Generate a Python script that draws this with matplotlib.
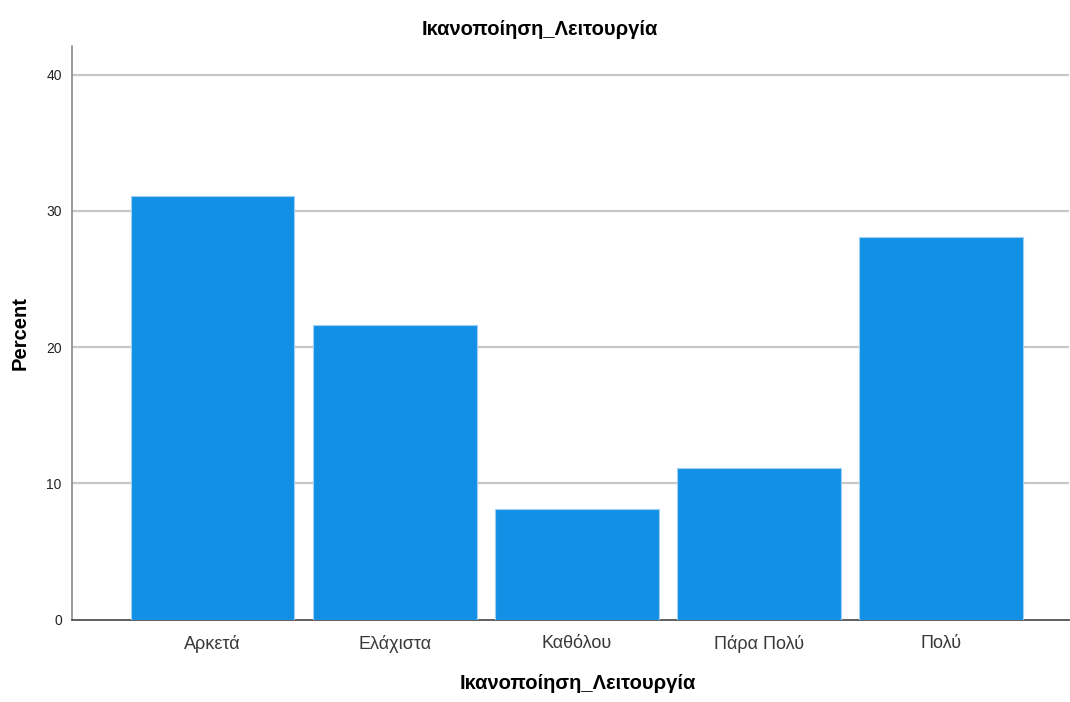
import matplotlib
matplotlib.use("Agg")
import matplotlib.pyplot as plt

# data
categories = ["Αρκετά", "Ελάχιστα", "Καθόλου", "Πάρα Πολύ", "Πολύ"]
percent = [31.1, 21.6, 8.1, 11.1, 28.1]
y_ticks = [0, 10, 20, 30, 40]

plt.rcParams['font.family'] = ['Liberation Sans', 'DejaVu Sans']

fig = plt.figure(figsize=(10.7, 7.02), dpi=100)
ax = fig.add_axes([71.5 / 1070, 82.5 / 702, (1069 - 71.5) / 1070, (619.5 - 46) / 702])

x = list(range(len(categories)))
ax.bar(x, percent, width=0.9, color='#1290e6', edgecolor='#9fd0f4', linewidth=0.8, zorder=3)

ax.set_xlim(-0.775, 4.705)
ax.set_ylim(0, 42.1)
ax.set_yticks(y_ticks)
ax.set_xticks(x)
ax.set_xticklabels(categories, fontsize=13, color='#383838')
ax.tick_params(axis='y', length=0, pad=7, labelsize=10, labelcolor='#222222')
ax.tick_params(axis='x', length=0, pad=11)

for t in y_ticks[1:]:
    ax.axhline(t, color='#c8c8c8', linewidth=1.6, zorder=1)

for s in ['top', 'right']:
    ax.spines[s].set_visible(False)
ax.spines['left'].set_color('#8a8a8a')
ax.spines['left'].set_linewidth(1.2)
ax.spines['bottom'].set_color('#444444')
ax.spines['bottom'].set_linewidth(1.2)

# title sits centred on the figure, not on the axes
ax.set_title("Ικανοποίηση_Λειτουργία", fontsize=14.5, fontweight='bold', pad=8,
             x=(540 - 71.5) / 997.5)
ax.set_xlabel("Ικανοποίηση_Λειτουργία", fontsize=14.5, fontweight='bold', labelpad=22)
ax.xaxis.set_label_coords((578 - 71.5) / 997.5, -0.095)
ax.set_ylabel("Percent", fontsize=14.5, fontweight='bold', labelpad=12)

fig.savefig("out.png", dpi=100)
